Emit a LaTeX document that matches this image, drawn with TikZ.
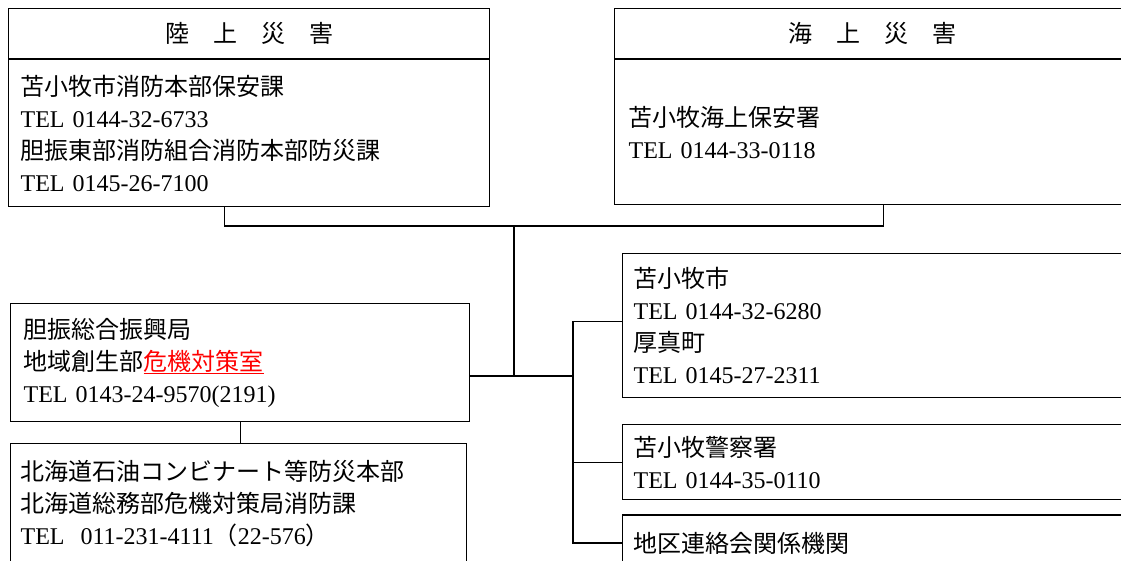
\documentclass[tikz,border=0pt]{standalone}
\usepackage{fontspec}
\setmainfont{Noto Sans CJK JP}
\newfontfamily\telfont{Liberation Serif}
\newcommand\tel[1]{{\telfont\fontsize{24}{32}\selectfont #1}}
\usetikzlibrary{positioning}

\begin{document}
\begin{tikzpicture}[
    x=1pt,y=-1pt,
    every node/.style={draw,line width=1.2pt,anchor=north west,inner ysep=2pt,
        font=\fontsize{24}{32}\selectfont},
    headbox/.style={align=center,minimum height=50pt},
    infobox/.style={align=left}
]
    \useasboundingbox (0,0) rectangle (1121,561);
    %Top Layer
    \node[headbox,minimum width=481pt] (land) at (8,8) {陸　上　災　害};
    \node[infobox,below=0pt of land.south west,anchor=north west,
        inner xsep=12pt,text width=457pt,minimum height=147pt] (land-info)
        {苫小牧市消防本部保安課\\\tel{TEL 0144-32-6733}\\胆振東部消防組合消防本部防災課\\\tel{TEL 0145-26-7100}};
    \node[headbox,minimum width=516pt] (sea) at (614,8) {海　上　災　害};
    \node[infobox,below=0pt of sea.south west,anchor=north west,
        inner xsep=14pt,text width=488pt,minimum height=145pt] (sea-info)
        {苫小牧海上保安署\\\tel{TEL 0144-33-0118}};
    %Left
    \node[infobox,inner xsep=13pt,text width=433pt,minimum height=118pt] (shinko) at (10,303)
        {胆振総合振興局\\地域創生部\textcolor{red}{\underline{危機対策室}}\\\tel{TEL 0143-24-9570(2191)}};
    \node[infobox,below=21pt of shinko.south west,anchor=north west,
        inner xsep=10pt,text width=436pt,minimum height=120pt] (hq)
        {北海道石油コンビナート等防災本部\\北海道総務部危機対策局消防課\\\tel{TEL\ \ 011-231-4111}（\tel{22-576}）};
    %Right
    \node[infobox,inner xsep=11pt,text width=486pt,minimum height=144pt] (city) at (622,253)
        {苫小牧市\\\tel{TEL 0144-32-6280}\\厚真町\\\tel{TEL 0145-27-2311}};
    \node[infobox,below=26pt of city.south west,anchor=north west,
        inner xsep=11pt,text width=485pt,minimum height=75pt] (police)
        {苫小牧警察署\\\tel{TEL 0144-35-0110}};
    \node[infobox,below=14pt of police.south west,anchor=north west,
        inner xsep=11pt,text width=486pt,minimum height=56pt] (kikan)
        {地区連絡会関係機関};
    %Connectors
    \coordinate (hub) at (514,226);
    \coordinate (mid) at (514,376);
    \coordinate (bus) at (573,376);
    \draw[line width=1.2pt] ([xshift=-25pt]land-info.south) |- (hub) -| ([xshift=11pt]sea-info.south);
    \draw[line width=1.2pt] (hub) -- (mid);
    \draw[line width=1.2pt] (shinko.east |- mid) -- (bus);
    \draw[line width=1.2pt] ([yshift=4pt]city.west) -| (bus) |- (police.west);
    \draw[line width=1.2pt] (bus) |- (kikan.west);
    \draw[line width=1.2pt] (shinko.south) -- (shinko.south |- hq.north);
\end{tikzpicture}
\end{document}
